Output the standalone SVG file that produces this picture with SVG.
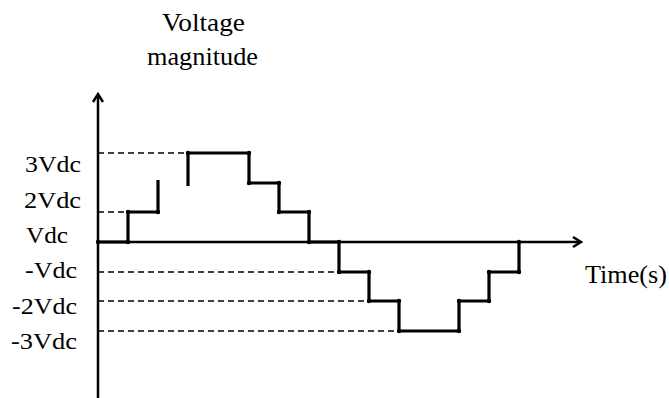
<svg xmlns="http://www.w3.org/2000/svg" width="669" height="398" viewBox="0 0 669 398">
<style>
text{font-family:"Liberation Serif","Times New Roman",serif;font-size:24px;fill:#000}
.big{font-size:25px}
.axis{stroke:#000;stroke-width:2.5;fill:none}
.dash{stroke:#000;stroke-width:1.3;stroke-dasharray:6,4;fill:none}
.step{stroke:#000;stroke-width:3.2;fill:none;stroke-linejoin:miter}
.dot{fill:#000}
</style>
<rect width="669" height="398" fill="#fff"/>
<g id="title">
<text class="big" x="162" y="31" textLength="83" lengthAdjust="spacingAndGlyphs">Voltage</text>
<text class="big" x="147" y="65" textLength="111" lengthAdjust="spacingAndGlyphs">magnitude</text>
</g>
<g id="labels">
<text x="25" y="172" textLength="56" lengthAdjust="spacingAndGlyphs">3Vdc</text>
<text x="24" y="208" textLength="57" lengthAdjust="spacingAndGlyphs">2Vdc</text>
<text x="26" y="243" textLength="42" lengthAdjust="spacingAndGlyphs">Vdc</text>
<text x="25" y="278" textLength="52" lengthAdjust="spacingAndGlyphs">-Vdc</text>
<text x="12" y="314" textLength="65" lengthAdjust="spacingAndGlyphs">-2Vdc</text>
<text x="11" y="349" textLength="66" lengthAdjust="spacingAndGlyphs">-3Vdc</text>
<text class="big" x="585" y="283" textLength="82" lengthAdjust="spacingAndGlyphs">Time(s)</text>
</g>
<g id="connectors">
<line class="dash" x1="98" y1="153" x2="188" y2="153"/>
<line class="dash" x1="98" y1="212" x2="128" y2="212"/>
<line class="dash" x1="98" y1="272" x2="339" y2="272"/>
<line class="dash" x1="98" y1="301" x2="369" y2="301"/>
<line class="dash" x1="98" y1="331" x2="399" y2="331"/>
<line class="axis" x1="98" y1="398" x2="98" y2="95"/>
<polyline class="axis" points="93,102 98,94 103,102"/>
<line class="axis" x1="97" y1="242" x2="580" y2="242"/>
<polyline class="axis" points="573,237 581,242 573,247"/>
</g>
<g id="waveform">
<polyline class="step" points="98,242 128,242 128,212 158,212 158,180"/>
<polyline class="step" points="188,186 188,153 249,153 249,183 279,183 279,212 309,212 309,242 339,242 339,272 369,272 369,301 399,301 399,331 459,331 459,301 489,301 489,272 519,272 519,242"/>
<g class="dot">
<circle cx="98" cy="242" r="2.2"/><circle cx="128" cy="242" r="2.2"/><circle cx="128" cy="212" r="2.2"/><circle cx="158" cy="212" r="2.2"/>
<circle cx="188" cy="153" r="2.2"/><circle cx="249" cy="153" r="2.2"/><circle cx="249" cy="183" r="2.2"/><circle cx="279" cy="183" r="2.2"/>
<circle cx="279" cy="212" r="2.2"/><circle cx="309" cy="212" r="2.2"/><circle cx="309" cy="242" r="2.2"/><circle cx="339" cy="242" r="2.2"/>
<circle cx="339" cy="272" r="2.2"/><circle cx="369" cy="272" r="2.2"/><circle cx="369" cy="301" r="2.2"/><circle cx="399" cy="301" r="2.2"/>
<circle cx="399" cy="331" r="2.2"/><circle cx="459" cy="331" r="2.2"/><circle cx="459" cy="301" r="2.2"/><circle cx="489" cy="301" r="2.2"/>
<circle cx="489" cy="272" r="2.2"/><circle cx="519" cy="272" r="2.2"/><circle cx="519" cy="242" r="2.2"/>
</g>
</g>
</svg>
